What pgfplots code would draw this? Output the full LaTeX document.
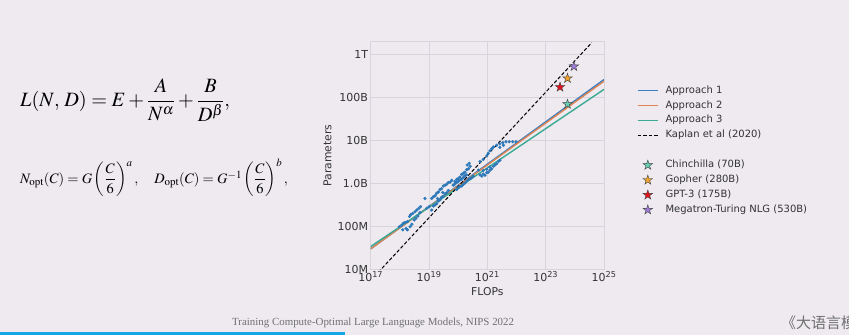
\documentclass[border=0pt]{standalone}
\usepackage{amsmath}
\usepackage{mathptmx}
\usepackage{fontspec}
\setmainfont{Liberation Serif}
\newfontfamily\dejavu{DejaVu Sans}
\newfontfamily\cjk{Noto Sans CJK SC}
\usepackage{pgfplots}
\pgfplotsset{compat=1.18}
\definecolor{bg}{HTML}{EEEAF0}
\definecolor{gridc}{HTML}{D8D4DB}
\definecolor{labc}{HTML}{333333}
\definecolor{capc}{HTML}{707070}
\definecolor{barc}{HTML}{16A8E6}
\definecolor{scat}{HTML}{2C78B8}
\definecolor{apA}{HTML}{3A7DC2}
\definecolor{apB}{HTML}{DD8452}
\definecolor{apC}{HTML}{3AAA94}
\definecolor{chin}{HTML}{66CDB4}
\definecolor{goph}{HTML}{F2A52A}
\definecolor{gpt}{HTML}{E8101A}
\definecolor{mtnlg}{HTML}{A07CDA}
\pgfdeclareplotmark{fstar}{%
  \pgfpathmoveto{\pgfpointpolar{90}{\pgfplotmarksize}}%
  \pgfpathlineto{\pgfpointpolar{126}{0.382\pgfplotmarksize}}%
  \pgfpathlineto{\pgfpointpolar{162}{\pgfplotmarksize}}%
  \pgfpathlineto{\pgfpointpolar{198}{0.382\pgfplotmarksize}}%
  \pgfpathlineto{\pgfpointpolar{234}{\pgfplotmarksize}}%
  \pgfpathlineto{\pgfpointpolar{270}{0.382\pgfplotmarksize}}%
  \pgfpathlineto{\pgfpointpolar{306}{\pgfplotmarksize}}%
  \pgfpathlineto{\pgfpointpolar{342}{0.382\pgfplotmarksize}}%
  \pgfpathlineto{\pgfpointpolar{18}{\pgfplotmarksize}}%
  \pgfpathlineto{\pgfpointpolar{54}{0.382\pgfplotmarksize}}%
  \pgfpathclose
  \pgfusepathqfillstroke
}
\begin{document}
\begin{tikzpicture}
\useasboundingbox (0,0) rectangle (849pt,335pt);
\clip (0,0) rectangle (849pt,335pt);
\fill[bg] (0,0) rectangle (849pt,335pt);
\fill[barc] (0,0) rectangle (345pt,2.6pt);
\node[anchor=west, inner sep=0pt] at (20pt,235pt) {\fontsize{20.3}{23}\selectfont $L(N,\,D)=E+\dfrac{A}{N^{\alpha}}+\dfrac{B}{D^{\beta}},$};
\node[anchor=west, inner sep=0pt] at (20pt,157pt) {\fontsize{14.4}{17}\selectfont $N_{\mathrm{opt}}(C)=G\left(\dfrac{C}{6}\right)^{a},\quad D_{\mathrm{opt}}(C)=G^{-1}\left(\dfrac{C}{6}\right)^{b},$};
\node[anchor=west, inner sep=0pt, text=capc] at (232pt,12pt) {\fontsize{10.9}{13}\selectfont Training Compute-Optimal Large Language Models, NIPS 2022};
\node[anchor=west, inner sep=0pt, text=capc] at (781pt,12pt) {\cjk\fontsize{15}{17}\selectfont 《大语言模型》};
\begin{axis}[
  at={(370.7pt,65.7pt)}, anchor=south west,
  scale only axis, width=233.3pt, height=227.6pt,
  xmode=log, ymode=log,
  xmin=1e17, xmax=1e25, ymin=1e7, ymax=2e12,
  xtick={1e17,1e19,1e21,1e23,1e25},
  xticklabels={10\textsuperscript{17},10\textsuperscript{19},10\textsuperscript{21},10\textsuperscript{23},10\textsuperscript{25}},
  ytick={1e7,1e8,1e9,1e10,1e11,1e12},
  yticklabels={10M,100M,1.0B,10B,100B,1T},
  minor xtick={}, minor ytick={},
  grid=major, major grid style={draw=gridc, line width=0.8pt},
  axis line style={draw=gridc, line width=0.8pt},
  tick style={draw=none}, major tick length=0pt, minor tick length=0pt,
  ticklabel style={font=\dejavu\fontsize{11}{13}\selectfont, text=labc},
  yticklabel style={inner sep=2.5pt},
  xticklabel style={inner sep=2pt},
  xlabel={FLOPs}, ylabel={Parameters},
  label style={font=\dejavu\fontsize{10.8}{13}\selectfont, text=labc},
  legend style={at={(axis description cs:1.141,0.812)}, anchor=north west, draw=none, fill=none,
    font=\dejavu\fontsize{10}{12}\selectfont, text=labc, inner sep=0pt, row sep=2.9pt,
    nodes={inner sep=0pt, text height=8.5pt, text depth=3.5pt},
    /tikz/every odd column/.append style={column sep=7pt}},
  legend cell align=left,
  legend image code/.code={\draw[mark repeat=2,mark phase=2,#1] plot coordinates {(0pt,0pt) (10pt,0pt) (20pt,0pt)};},
]
\addplot[forget plot, only marks, mark=*, mark size=1.4pt, color=scat, mark options={draw=none, fill=scat}] coordinates {
(9.5e17,9.8e7) (1.15e18,1.07e8) (1.32e18,1.18e8) (1.51e18,1.23e8) (1.62e18,8.9e7)
(1.82e18,8.3e7) (1.82e18,1.29e8) (2.14e18,1.70e8) (2.24e18,9.8e7) (2.34e18,1.86e8)
(2.57e18,1.12e8) (2.75e18,2.0e8) (3.09e18,1.41e8) (3.31e18,2.19e8) (3.55e18,1.55e8)
(3.80e18,2.40e8) (4.17e18,1.74e8) (4.47e18,2.63e8) (4.90e18,2.09e8) (5.13e18,2.88e8)
(7.24e18,4.47e8) (1.26e18,8.3e7) (8.3e18,2.63e8) (1.02e19,2.88e8) (1.23e19,2.40e8)
(1.41e19,2.98e8) (1.62e19,3.16e8) (1.82e19,3.37e8) (2.09e19,3.90e8) (2.40e19,4.17e8)
(2.69e19,4.78e8) (3.09e19,5.03e8) (3.55e19,5.72e8) (4.07e19,6.07e8) (4.57e19,6.86e8)
(1.23e19,4.47e8) (1.41e19,4.90e8) (1.62e19,5.17e8) (1.82e19,5.89e8) (2.09e19,6.31e8)
(2.40e19,7.24e8) (2.69e19,7.56e8) (3.09e19,8.71e8) (3.55e19,9.12e8) (4.07e19,9.57e8)
(4.57e19,1.05e9) (5.25e19,1.07e9) (6.03e19,1.18e9) (1.95e19,4.47e8) (2.95e19,6.17e8)
(7.76e19,1.10e9) (8.91e19,1.24e9) (1.02e20,1.32e9) (1.15e20,1.41e9) (1.32e20,1.62e9)
(1.51e20,1.74e9) (1.70e20,1.82e9) (1.95e20,2.09e9) (2.24e20,2.19e9) (2.57e20,2.51e9)
(2.04e20,2.69e9) (2.40e20,2.95e9) (6.76e19,9.12e8) (7.76e19,9.77e8) (8.91e19,1.05e9)
(1.02e20,1.12e9) (1.15e20,1.20e9) (1.32e20,1.26e9) (1.51e20,1.38e9) (1.70e20,1.51e9)
(1.95e20,1.58e9) (8.91e19,7.24e8) (1.02e20,7.96e8) (1.15e20,8.51e8) (1.32e20,8.71e8)
(1.51e20,9.55e8) (1.70e20,1.02e9) (1.95e20,1.12e9) (2.24e20,1.23e9) (2.57e20,1.29e9)
(2.88e20,1.35e9) (3.31e20,1.48e9) (5.62e20,1.58e9) (6.46e20,1.48e9) (7.24e20,1.66e9)
(8.32e20,1.55e9) (9.55e20,1.78e9) (1.07e21,1.82e9) (1.23e21,2.04e9) (1.41e21,2.19e9)
(1.62e21,2.51e9) (1.82e21,2.69e9) (2.09e21,2.88e9) (2.40e21,3.24e9) (2.69e21,3.47e9)
(9.55e20,2.14e9) (1.23e21,2.40e9) (7.24e20,2.00e9) (4.90e20,2.04e9) (5.62e20,3.24e9)
(7.24e20,3.63e9) (9.55e20,4.37e9) (1.07e21,5.01e9) (1.23e21,5.75e9) (1.41e21,6.46e9)
(1.62e21,7.08e9) (2.09e21,7.76e9) (2.69e21,8.32e9) (3.39e21,8.91e9) (4.37e21,9.33e9)
(5.62e21,9.33e9) (7.41e21,9.33e9) (9.55e21,9.33e9) (2.69e21,6.92e9) (3.55e21,7.76e9)
};
\addplot[color=apA, line width=1.4pt] coordinates {(1e17,3.0e7) (1e25,2.63e11)};
\addlegendentry{Approach 1}
\addplot[color=apB, line width=1.4pt] coordinates {(1e17,3.0e7) (1e25,2.40e11)};
\addlegendentry{Approach 2}
\addplot[color=apC, line width=1.4pt] coordinates {(1e17,3.4e7) (1e25,1.55e11)};
\addlegendentry{Approach 3}
\addplot[color=black, line width=1pt, dash pattern=on 3.5pt off 2pt] coordinates {(1e17,5.5e6) (3.8e24,1.9e12)};
\addlegendentry{Kaplan et al (2020)}
\addlegendimage{empty legend}
\addlegendentry{}
\addplot[only marks, mark=fstar, mark size=5pt, mark options={fill=chin, draw=black!75, line width=0.4pt}] coordinates {(5.6e23,7.0e10)};
\addlegendentry{Chinchilla (70B)}
\addplot[only marks, mark=fstar, mark size=5pt, mark options={fill=goph, draw=black!75, line width=0.4pt}] coordinates {(5.6e23,2.8e11)};
\addlegendentry{Gopher (280B)}
\addplot[only marks, mark=fstar, mark size=5pt, mark options={fill=gpt, draw=black!75, line width=0.4pt}] coordinates {(3.1e23,1.75e11)};
\addlegendentry{GPT-3 (175B)}
\addplot[only marks, mark=fstar, mark size=5pt, mark options={fill=mtnlg, draw=black!75, line width=0.4pt}] coordinates {(9.3e23,5.3e11)};
\addlegendentry{Megatron-Turing NLG (530B)}
\end{axis}
\end{tikzpicture}
\end{document}
